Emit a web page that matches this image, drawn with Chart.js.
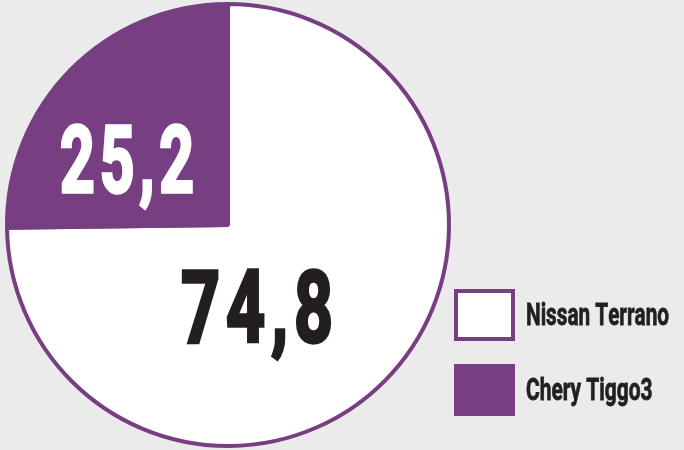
<!DOCTYPE html>
<html>
<head>
<meta charset="utf-8">
<script src="https://cdn.jsdelivr.net/npm/chart.js@4.4.1/dist/chart.umd.min.js"></script>
<style>
  html, body { margin: 0; padding: 0; background: #ebebeb; }
  #wrap { width: 684px; height: 450px; }
</style>
</head>
<body>
<div id="wrap"><canvas id="pie"></canvas></div>
<script>
const labels = ['Nissan Terrano', 'Chery Tiggo3'];
const shares = [74.8, 25.2];
const fills = ['#ffffff', '#783e82'];
const textColors = ['#231f20', '#ffffff'];

const purple = '#783e82';
const ink = '#231f20';
const condensed = 'Roboto, "Liberation Sans", sans-serif';

// value labels: offset from pie centre, font size, target width and gap in px
const labelSpots = [
    { dx: 29, base: 117, size: 101, width: 152, gap: 6 },
    { dx: -101, base: -33, size: 92, width: 134, gap: 5 }
];

// text squeezed horizontally to a given width, with extra space between glyphs
function squeezedText(ctx, text, x, y, size, width, gap, color, align, weight) {
    ctx.save();
    ctx.font = 'bold ' + size + 'px ' + condensed;
    ctx.textAlign = 'left';
    ctx.fillStyle = color;
    ctx.strokeStyle = color;
    ctx.lineWidth = weight;
    ctx.lineJoin = 'miter';
    const chars = text.split('');
    const widths = chars.map(c => ctx.measureText(c).width);
    const natural = widths.reduce((a, b) => a + b, 0);
    const sx = (width - gap * (chars.length - 1)) / natural;
    let cx = align === 'center' ? x - width / 2 : x;
    chars.forEach((c, i) => {
        ctx.save();
        ctx.translate(cx, y);
        ctx.scale(sx, 1);
        ctx.fillText(c, 0, 0);
        if (weight > 0) ctx.strokeText(c, 0, 0);
        ctx.restore();
        cx += widths[i] * sx + gap;
    });
    ctx.restore();
}

const valueLabels = {
    id: 'valueLabels',
    afterDatasetsDraw(chart) {
        const ctx = chart.ctx;
        const arcs = chart.getDatasetMeta(0).data;
        arcs.forEach((arc, i) => {
            const spot = labelSpots[i];
            const text = shares[i].toFixed(1).replace('.', ',');
            ctx.textBaseline = 'alphabetic';
            squeezedText(ctx, text, arc.x + spot.dx, arc.y + spot.base, spot.size, spot.width, spot.gap, textColors[i], 'center', 3.5);
        });
    }
};

// legend column: fixed width, condensed label text drawn over the boxes
const legendText = {
    id: 'legendText',
    beforeLayout(chart) {
        const lg = chart.legend;
        if (!lg || lg._fixed) return;
        const fit = lg.fit;
        lg.fit = function() {
            fit.call(this);
            this.width = 255;
        };
        lg._fixed = true;
    },
    afterDraw(chart) {
        const lg = chart.legend;
        if (!lg || !lg.columnSizes) return;
        const ctx = chart.ctx;
        const lab = lg.options.labels;
        const size = 31;
        const itemH = Math.max(lab.boxHeight, lab.font.size);
        const y0 = lg.bottom - lg.columnSizes[0].height;
        const x = lg.left + lab.padding + lab.boxWidth + 13;
        ctx.save();
        ctx.font = 'bold ' + size + 'px ' + condensed;
        const sx = 143 / ctx.measureText(labels[0]).width;
        lg.legendItems.forEach((item, i) => {
            const w = ctx.measureText(item.text).width * sx;
            ctx.textBaseline = 'middle';
            squeezedText(ctx, item.text, x, y0 + i * (itemH + lab.padding) + itemH / 2 + 2, size, w, 0, ink, 'left', 0.8);
        });
        ctx.restore();
    }
};

new Chart(document.getElementById('pie'), {
    type: 'pie',
    data: {
        labels: labels,
        datasets: [{
            data: shares,
            backgroundColor: fills,
            borderColor: purple,
            borderWidth: 4,
            clip: false
        }]
    },
    options: {
        responsive: true,
        maintainAspectRatio: false,
        animation: false,
        radius: 221,
        layout: { padding: { left: 27, right: 0, top: 9, bottom: 9 } },
        plugins: {
            tooltip: { enabled: false },
            legend: {
                position: 'right',
                align: 'end',
                labels: {
                    boxWidth: 57,
                    boxHeight: 48,
                    padding: 27,
                    color: 'rgba(0,0,0,0)',
                    font: { family: condensed, size: 30, weight: 'bold' }
                }
            }
        }
    },
    plugins: [valueLabels, legendText]
});
</script>
</body>
</html>
